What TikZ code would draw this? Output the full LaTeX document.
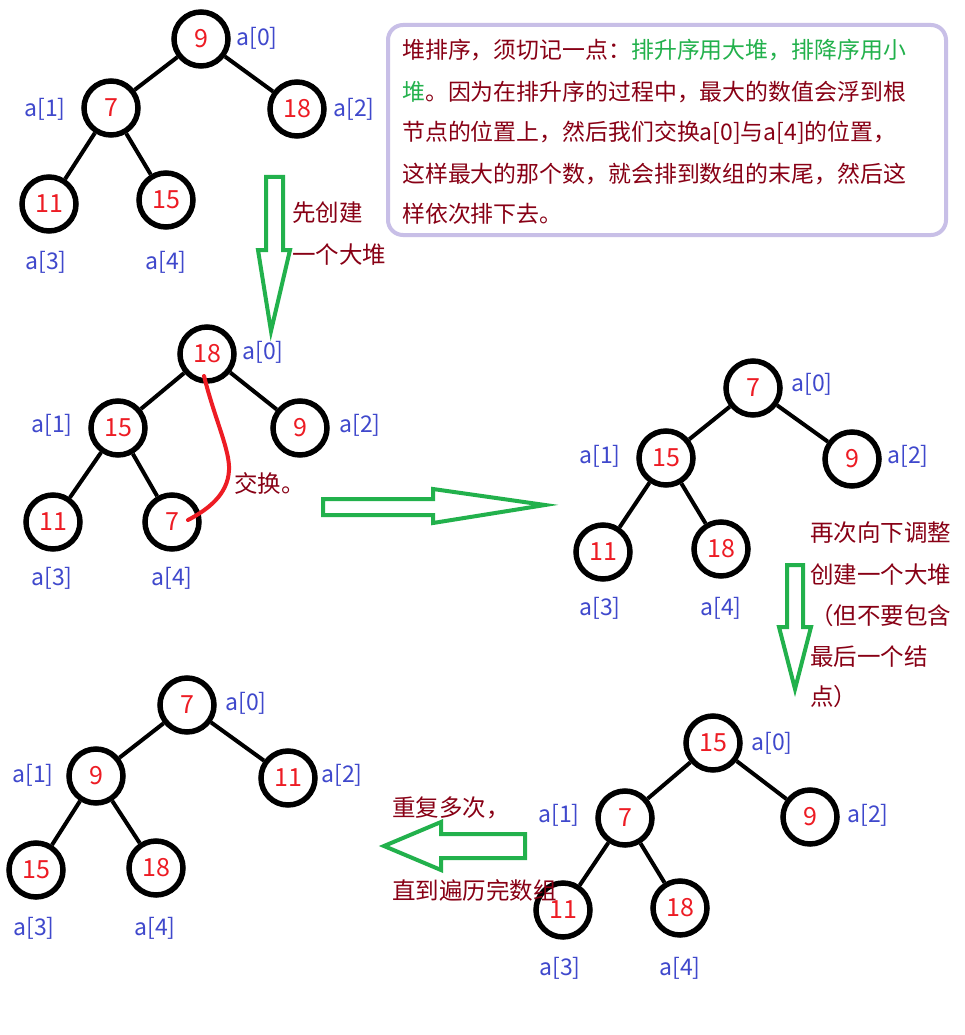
\documentclass[tikz,border=0pt]{standalone}
\usepackage{fontspec}
\setmainfont{Noto Sans CJK SC}
\definecolor{dred}{HTML}{880015}
\definecolor{agreen}{HTML}{22B14C}
\definecolor{numred}{HTML}{ED1C24}
\definecolor{lblue}{HTML}{3F48CC}
\definecolor{lav}{HTML}{C8BFE7}
\begin{document}
\begin{tikzpicture}[x=1pt,y=-1pt,
  hnode/.style={circle,draw=black,line width=5.5pt,minimum size=54pt,inner sep=0pt,text=numred,font=\fontsize{25}{25}\selectfont},
  lbl/.style={text=lblue,font=\fontsize{23}{23}\selectfont,inner sep=0pt},
  tedge/.style={line width=4pt},
  note/.style={text=dred,font=\fontsize{23.5}{23.5}\selectfont,inner sep=0pt,anchor=west},
  boxnote/.style={note,font=\fontsize{22.9}{22.9}\selectfont},
  blockarrow/.style={draw=agreen,line width=4pt,line join=miter}
]
\useasboundingbox[fill=white] (0,0) rectangle (964,1035);

% ---------- info box ----------
\draw[lav,line width=4pt,rounded corners=15pt] (388,25) rectangle (946,235);
\node[boxnote] (b1) at (402,50) {堆排序，须切记一点：\textcolor{agreen}{排升序用大堆，排降序用小}};
\node[boxnote] (b2) at (402,92) {\textcolor{agreen}{堆}。因为在排升序的过程中，最大的数值会浮到根};
\node[boxnote] (b3) at (402,133) {节点的位置上，然后我们交换a[0]与a[4]的位置，};
\node[boxnote] (b4) at (402,174) {这样最大的那个数，就会排到数组的末尾，然后这};
\node[boxnote] (b5) at (402,214) {样依次排下去。};

% ---------- tree 1 ----------
\node[hnode] (a0) at (201,39) {9};
\node[hnode] (a1) at (111,108) {7};
\node[hnode] (a2) at (297,109) {18};
\node[hnode] (a3) at (49,204) {11};
\node[hnode] (a4) at (166,200) {15};
\draw[tedge] (a0) -- (a1); \draw[tedge] (a0) -- (a2);
\draw[tedge] (a1) -- (a3); \draw[tedge] (a1) -- (a4);
\node[lbl] (la0) at (257,38) {a[0]};
\node[lbl] (la1) at (45,109) {a[1]};
\node[lbl] (la2) at (354,109) {a[2]};
\node[lbl] (la3) at (46,262) {a[3]};
\node[lbl] (la4) at (166,262) {a[4]};

% arrow 1 (down)
\draw[blockarrow] (266,177) -- (283,177) -- (283,250) -- (290,250) -- (271,331) -- (258,250) -- (266,250) -- cycle;
\node[note] (t1) at (292,213) {先创建};
\node[note] (t2) at (292,255) {一个大堆};

% ---------- tree 2 ----------
\node[hnode] (b0) at (207,354) {18};
\node[hnode] (b1n) at (118,428) {15};
\node[hnode] (b2n) at (300,428) {9};
\node[hnode] (b3n) at (53,522) {11};
\node[hnode] (b4n) at (172,522) {7};
\draw[tedge] (b0) -- (b1n); \draw[tedge] (b0) -- (b2n);
\draw[tedge] (b1n) -- (b3n); \draw[tedge] (b1n) -- (b4n);
\node[lbl] (lb0) at (263,352) {a[0]};
\node[lbl] (lb1) at (52,425) {a[1]};
\node[lbl] (lb2) at (360,425) {a[2]};
\node[lbl] (lb3) at (52,578) {a[3]};
\node[lbl] (lb4) at (172,578) {a[4]};
\coordinate (sw1) at (204,376);
\coordinate (sw2) at (188,520);
\draw[numred,line width=4pt,line cap=round] (sw1) .. controls (215,420) and (230,450) .. (229,470) .. controls (228,495) and (207,510) .. (sw2);
\node[note] (sw) at (234,483) {交换。};

% arrow 2 (right)
\draw[blockarrow] (323,499) -- (433,499) -- (433,489) -- (545,505) -- (433,523) -- (433,515) -- (323,515) -- cycle;

% ---------- tree 3 ----------
\node[hnode] (c0) at (753,388) {7};
\node[hnode] (c1) at (666,458) {15};
\node[hnode] (c2) at (852,459) {9};
\node[hnode] (c3) at (603,552) {11};
\node[hnode] (c4) at (721,549) {18};
\draw[tedge] (c0) -- (c1); \draw[tedge] (c0) -- (c2);
\draw[tedge] (c1) -- (c3); \draw[tedge] (c1) -- (c4);
\node[lbl] (lc0) at (812,384) {a[0]};
\node[lbl] (lc1) at (600,456) {a[1]};
\node[lbl] (lc2) at (908,456) {a[2]};
\node[lbl] (lc3) at (600,608) {a[3]};
\node[lbl] (lc4) at (721,608) {a[4]};

\node[note] (r1) at (810,533) {再次向下调整};
\node[note] (r2) at (810,575) {创建一个大堆};
\node[note] (r3) at (810,616) {（但不要包含};
\node[note] (r4) at (810,657) {最后一个结};
\node[note] (r5) at (810,697) {点）};

% arrow 3 (down)
\draw[blockarrow] (787,565) -- (803,565) -- (803,627) -- (811,627) -- (795,689) -- (779,627) -- (787,627) -- cycle;

% ---------- tree 4 ----------
\node[hnode] (d0) at (713,743) {15};
\node[hnode] (d1) at (625,818) {7};
\node[hnode] (d2) at (810,817) {9};
\node[hnode] (d3) at (563,910) {11};
\node[hnode] (d4) at (680,908) {18};
\draw[tedge] (d0) -- (d1); \draw[tedge] (d0) -- (d2);
\draw[tedge] (d1) -- (d3); \draw[tedge] (d1) -- (d4);
\node[lbl] (ld0) at (772,743) {a[0]};
\node[lbl] (ld1) at (559,815) {a[1]};
\node[lbl] (ld2) at (868,815) {a[2]};
\node[lbl] (ld3) at (560,968) {a[3]};
\node[lbl] (ld4) at (680,968) {a[4]};

% arrow 4 (left)
\draw[blockarrow] (525,834) -- (525,858) -- (441,858) -- (441,870) -- (384,846) -- (441,822) -- (441,834) -- cycle;
\node[note] (l1) at (392,808) {重复多次，};
\node[note] (l2) at (392,890) {直到遍历完数组};

% ---------- tree 5 ----------
\node[hnode] (e0) at (187,705) {7};
\node[hnode] (e1) at (96,776) {9};
\node[hnode] (e2) at (288,778) {11};
\node[hnode] (e3) at (36,870) {15};
\node[hnode] (e4) at (156,868) {18};
\draw[tedge] (e0) -- (e1); \draw[tedge] (e0) -- (e2);
\draw[tedge] (e1) -- (e3); \draw[tedge] (e1) -- (e4);
\node[lbl] (le0) at (246,703) {a[0]};
\node[lbl] (le1) at (33,775) {a[1]};
\node[lbl] (le2) at (342,775) {a[2]};
\node[lbl] (le3) at (34,928) {a[3]};
\node[lbl] (le4) at (155,928) {a[4]};
\end{tikzpicture}
\end{document}
